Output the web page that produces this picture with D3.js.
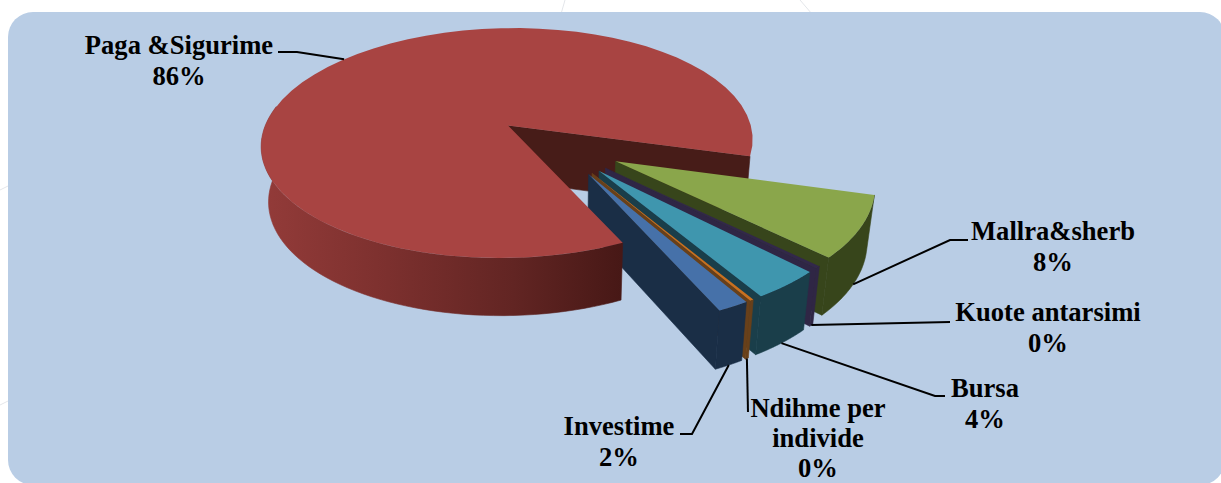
<!DOCTYPE html>
<html>
<head>
<meta charset="utf-8">
<script src="https://cdn.jsdelivr.net/npm/d3@7"></script>
<style>
    html, body { margin: 0; padding: 0; background: #ffffff; overflow: hidden; }
    text { font-family: "Liberation Serif", serif; font-weight: bold; font-size: 26.6px; fill: #000000; }
</style>
</head>
<body>
<svg id="chart" width="1221" height="483"></svg>
<script>
// values, labels are the rounded shares
const categories = ["Paga &Sigurime", "Mallra&sherb", "Kuote antarsimi", "Bursa", "Ndihme per individe", "Investime"];
const values = [86.0, 8.0, 0.3, 3.8, 0.2, 1.7];
const percentLabels = ["86%", "8%", "0%", "4%", "0%", "2%"];
const topColours = ["#a84442", "#8aa64b", "#32284a", "#3f96ae", "#c9701f", "#4671a9"];
const wallColours = ["#471c18", "#37451b", "#2f2645", "#1a3e4a", "#68401a", "#1a2e46"];

const svg = d3.select("#chart");

// pie geometry + a small perspective camera
const radius = 249.3, explode = 66, startDeg = 155.6;
const centerX = 557, centerY = 145.4;
const tilt = 0.475, cameraDist = 1600;
const wallBase = 55, wallGrow = 0.02, bottomShrink = 0.975;
// the big slice's near cut sits a bit further round than the camera gives
const bigCutTrim = 1.4 * Math.PI / 180;

const slices = d3.pie().sort(null).value(d => d)
    .startAngle(startDeg * Math.PI / 180)
    .endAngle((startDeg + 360) * Math.PI / 180)(values);

const offsetOf = s => {
    const mid = (s.startAngle + s.endAngle) / 2;
    return [explode * Math.sin(mid), explode * Math.cos(mid)];
};

const projectTop = (x, z) => {
    const k = cameraDist / (cameraDist + z);
    return [centerX + x * k, centerY - tilt * z * k];
};
const toBottom = p => {
    const wall = wallBase + (p[1] - 127) * wallGrow;
    return [centerX + (p[0] - centerX) * bottomShrink, p[1] + wall];
};

const rimPoint = (s, a) => {
    const o = offsetOf(s);
    return projectTop(o[0] + radius * Math.sin(a), o[1] + radius * Math.cos(a));
};
const apexPoint = s => projectTop(...offsetOf(s));
const rim = (s, from, to) => d3.range(0, 61).map(i => rimPoint(s, from + (to - from) * i / 60));

const line = d3.line();
const closed = pts => line(pts) + "Z";

const defs = svg.append("defs");
const redWall = defs.append("linearGradient")
    .attr("id", "red-wall")
    .attr("gradientUnits", "userSpaceOnUse")
    .attr("x1", 262).attr("x2", 621).attr("y1", 0).attr("y2", 0);
[["0%", "#933b39"], ["35%", "#7c302e"], ["70%", "#622523"], ["100%", "#471816"]].forEach(d => {
    redWall.append("stop").attr("offset", d[0]).style("stop-color", d[1]);
});

// page behind the panel
svg.selectAll(".page-line")
    .data([[565, 0, 561, 14], [800, 0, 812, 14], [0, 190, 10, 185], [0, 405, 10, 400]])
    .join("line")
    .attr("class", "page-line")
    .attr("x1", d => d[0]).attr("y1", d => d[1])
    .attr("x2", d => d[2]).attr("y2", d => d[3])
    .attr("stroke", "#e4e6ea")
    .attr("stroke-width", 1);

svg.append("rect")
    .attr("x", 8).attr("y", 12)
    .attr("width", 1217).attr("height", 473)
    .attr("rx", 25).attr("ry", 25)
    .attr("fill", "#b9cde5");

const chartArea = svg.append("g");

const drawEndWall = s => {
    const apex = apexPoint(s), outer = rimPoint(s, s.endAngle);
    chartArea.append("path")
        .attr("d", closed([apex, outer, toBottom(outer), toBottom(apex)]))
        .attr("fill", wallColours[s.index])
        .attr("stroke", wallColours[s.index])
        .attr("stroke-width", 0.6);
};
const drawOuterWall = (s, from, to, fill) => {
    const arc = rim(s, from, to);
    chartArea.append("path")
        .attr("d", closed(arc.concat(arc.map(toBottom).reverse())))
        .attr("fill", fill)
        .attr("stroke", fill)
        .attr("stroke-width", 0.6);
};
const drawTop = (s, from) => {
    chartArea.append("path")
        .attr("d", closed([apexPoint(s)].concat(rim(s, from, s.endAngle))))
        .attr("fill", topColours[s.index]);
};

// back wall of the big slice goes first, the small slices sit in front of it
drawEndWall(slices[0]);

slices.slice(1).forEach(s => {
    drawEndWall(s);
    drawOuterWall(s, s.startAngle, s.endAngle, wallColours[s.index]);
    drawTop(s, s.startAngle);
});

const bigFrom = slices[0].startAngle - bigCutTrim;
drawOuterWall(slices[0], bigFrom, 280 * Math.PI / 180, "url(#red-wall)");
drawTop(slices[0], bigFrom);

// labels and leader lines
const labelLines = [
    [categories[0]],
    [categories[1]],
    [categories[2]],
    [categories[3]],
    ["Ndihme per", "individe"],
    [categories[5]]
];
const labelLayout = [
    { x: 179, y: 54, step: 30.5, plane: "top", elbow: [[278, 52], [297, 52]] },
    { x: 1053, y: 240, step: 30.5, plane: "bottom", elbow: [[968, 240], [950, 240]] },
    { x: 1048, y: 321, step: 30.5, plane: "bottom", elbow: [[950, 322]] },
    { x: 985, y: 397, step: 30.5, plane: "bottom", elbow: [[945, 396], [935, 396]] },
    { x: 818, y: 417, step: 30, plane: "bottom", elbow: [[748, 412]] },
    { x: 619, y: 435, step: 30.5, plane: "bottom", elbow: [[680, 434], [692, 434]] }
];

slices.forEach((s, i) => {
    const place = labelLayout[i];
    const onRim = rimPoint(s, (s.startAngle + s.endAngle) / 2);
    const anchor = place.plane === "top" ? onRim : toBottom(onRim);
    chartArea.append("path")
        .attr("d", line(place.elbow.concat([anchor])))
        .attr("fill", "none")
        .attr("stroke", "#000000")
        .attr("stroke-width", 2);

    chartArea.selectAll(`.label-${i}`)
        .data(labelLines[i].concat([percentLabels[i]]))
        .join("text")
        .attr("class", `label-${i}`)
        .attr("x", place.x)
        .attr("y", (d, j) => place.y + j * place.step)
        .attr("text-anchor", "middle")
        .text(d => d);
});
</script>
</body>
</html>
